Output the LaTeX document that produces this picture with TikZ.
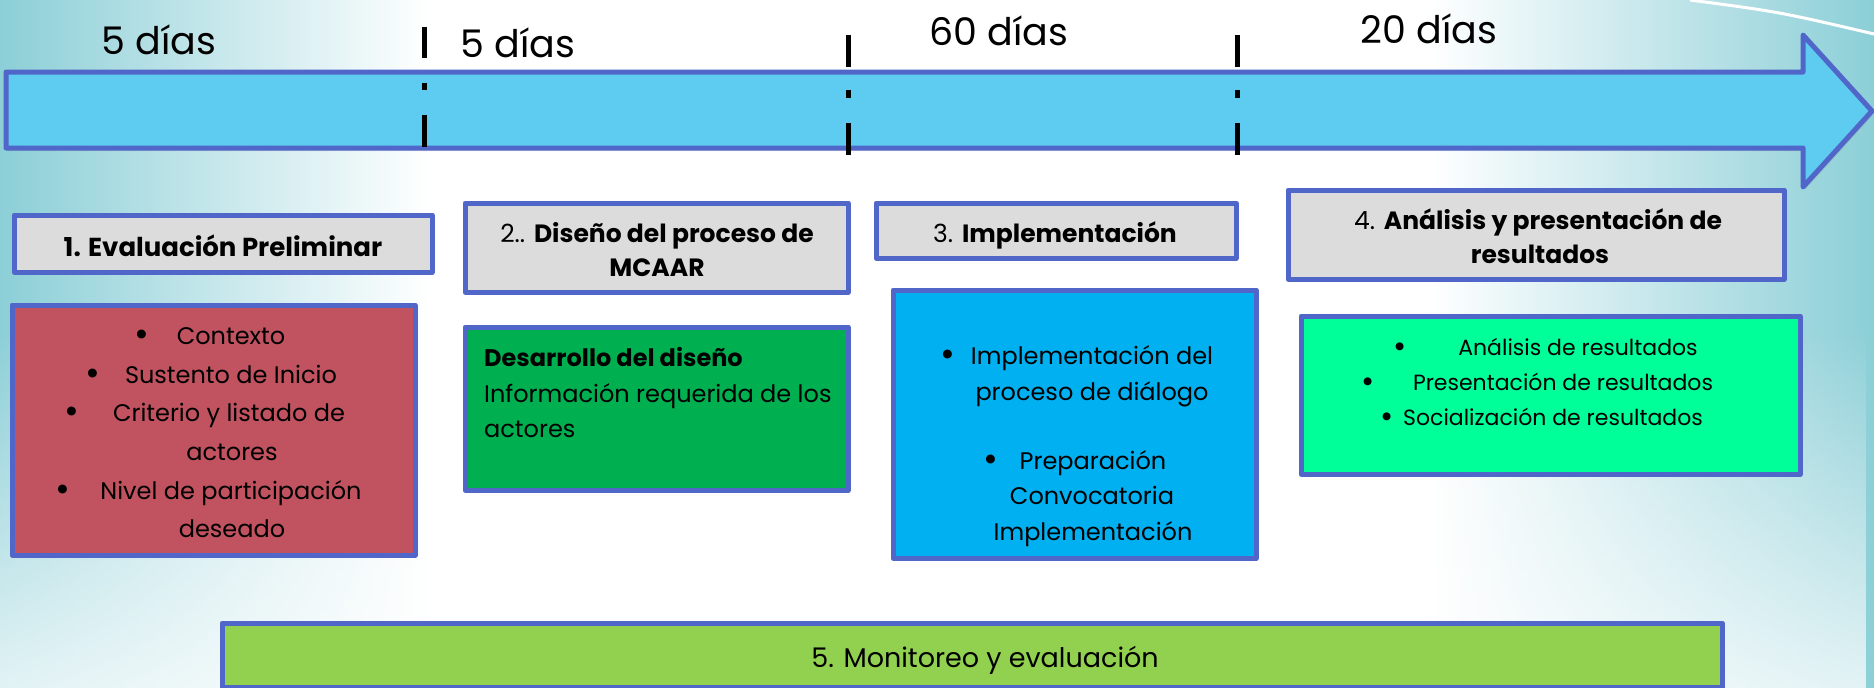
\documentclass[tikz,border=0pt]{standalone}
\usepackage{fontspec}
\setmainfont{Poppins}
\usetikzlibrary{shadows,fadings}
\definecolor{bord}{HTML}{5066C8}
\definecolor{arrowfill}{HTML}{5ECBF0}
\definecolor{hdrgray}{HTML}{DCDCDC}
\definecolor{redbox}{HTML}{C0535F}
\definecolor{greenbox}{HTML}{00B050}
\definecolor{bluebox}{HTML}{00B0F0}
\definecolor{lgbox}{HTML}{00FF99}
\definecolor{limebox}{HTML}{92D050}
\definecolor{bgteal}{HTML}{8CCFD7}
\begin{document}
\begin{tikzpicture}[x=1pt,y=-1pt,
  panel/.style={draw=bord, line width=5pt, inner sep=0pt, outer sep=0pt, line join=round,
    drop shadow={shadow xshift=2pt, shadow yshift=-3pt, opacity=0.18}},
  hdr/.style={panel, fill=hdrgray},
  txt/.style={anchor=mid, inner sep=0pt, font=\fontsize{24}{28}\selectfont},
  btxt/.style={anchor=mid, inner sep=0pt, font=\fontsize{25}{28}\selectfont\bfseries},
  htxt/.style={anchor=mid, inner sep=0pt, font=\fontsize{25}{28}\selectfont},
  smtxt/.style={anchor=mid, inner sep=0pt, font=\fontsize{22}{26}\selectfont},
  bul/.style={anchor=mid, inner sep=0pt, font=\fontsize{36}{36}\selectfont},
  bigtxt/.style={anchor=mid, inner sep=0pt, font=\fontsize{38}{42}\selectfont},
  tickmark/.style={line width=5pt, black},
]
\useasboundingbox (0,0) rectangle (1874,688);
% background
\fill[white] (0,0) rectangle (1874,688);
\shade[left color=bgteal, right color=white] (0,0) rectangle (430,688);
\shade[left color=white, right color=bgteal] (1430,0) rectangle (1874,688);
\fill[white, opacity=0.75, path fading=north] (0,330) rectangle (1874,688);
\draw[white, line width=3pt] (1690,0) .. controls (1780,12) .. (1874,34);

% timeline arrow
\draw[bord, fill=arrowfill, line width=5pt, line join=round,
  drop shadow={shadow xshift=2pt, shadow yshift=-3pt, opacity=0.18}]
  (6,72) -- (1803,72) -- (1803,35) -- (1872,111) -- (1803,187) -- (1803,148) -- (6,148) -- cycle;

% tick marks
\draw[tickmark] (424,27) -- (424,58) (424,83) -- (424,90) (424,115) -- (424,147);
\draw[tickmark] (848,35) -- (848,67) (848,90) -- (848,98) (848,123) -- (848,155);
\draw[tickmark] (1237,35) -- (1237,67) (1237,90) -- (1237,98) (1237,123) -- (1237,155);

% durations
\node[bigtxt] (d1) at (159,52) {5 días};
\node[bigtxt] (d2) at (518,55) {5 días};
\node[bigtxt] (d3) at (999,43) {60 días};
\node[bigtxt] (d4) at (1429,41) {20 días};

% headers
\node[hdr, minimum width=418pt, minimum height=57pt] (h1) at (223,243.5) {};
\node[hdr, minimum width=383pt, minimum height=89pt] (h2) at (656.5,247.5) {};
\node[hdr, minimum width=360pt, minimum height=55pt] (h3) at (1056,230.5) {};
\node[hdr, minimum width=496pt, minimum height=89pt] (h4) at (1536,234.5) {};

\node[btxt, font=\fontsize{26}{28}\selectfont\bfseries] (h1t) at (223,254) {1. Evaluación Preliminar};
\node[htxt] (h2t) at (657,240) {2.. \textbf{Diseño del proceso de}};
\node[btxt] (h2u) at (657,274) {MCAAR};
\node[htxt] (h3t) at (1055,240) {3. \textbf{Implementación}};
\node[htxt] (h4t) at (1538,227) {4. \textbf{Análisis y presentación de}};
\node[btxt] (h4u) at (1540,261) {resultados};

% content boxes
\node[panel, fill=redbox, minimum width=403pt, minimum height=250pt] (b1) at (213.5,430) {};
\node[panel, fill=greenbox, minimum width=383pt, minimum height=163pt] (b2) at (656.5,408.5) {};
\node[panel, fill=bluebox, minimum width=363pt, minimum height=268pt] (b3) at (1074.5,424) {};
\node[panel, fill=lgbox, minimum width=499pt, minimum height=158pt] (b4) at (1550.5,395) {};

% box 1 text
\node[bul] (r1b) at (142,344) {•};
\node[txt] (r1) at (231,342) {Contexto};
\node[bul] (r2b) at (93,383) {•};
\node[txt] (r2) at (231,381) {Sustento de Inicio};
\node[bul] (r3b) at (72,421) {•};
\node[txt] (r3) at (229,419) {Criterio y listado de};
\node[txt] (r4) at (232,458) {actores};
\node[bul] (r5b) at (63,499) {•};
\node[txt] (r5) at (231,497) {Nivel de participación};
\node[txt] (r6) at (232,535) {deseado};

% box 2 text
\node[btxt, font=\fontsize{24}{28}\selectfont\bfseries, anchor=mid west] (g1) at (484,364) {Desarrollo del diseño};
\node[txt, anchor=mid west] (g2) at (484,400) {Información requerida de los};
\node[txt, anchor=mid west] (g3) at (484,435) {actores};

% box 3 text
\node[bul] (c1b) at (948,364) {•};
\node[txt] (c1) at (1092,362) {Implementación del};
\node[txt] (c2) at (1092,398) {proceso de diálogo};
\node[bul] (c3b) at (991,469) {•};
\node[txt] (c3) at (1093,467) {Preparación};
\node[txt] (c4) at (1092,502) {Convocatoria};
\node[txt] (c5) at (1093,538) {Implementación};

% box 4 text
\node[bul, font=\fontsize{32}{32}\selectfont] (a1b) at (1400,355) {•};
\node[smtxt] (a1) at (1578,353) {Análisis de resultados};
\node[bul, font=\fontsize{32}{32}\selectfont] (a2b) at (1368,390) {•};
\node[smtxt] (a2) at (1563,388) {Presentación de resultados};
\node[bul, font=\fontsize{32}{32}\selectfont] (a3b) at (1387,425) {•};
\node[smtxt] (a3) at (1553,423) {Socialización de resultados};

% monitoring bar
\node[panel, fill=limebox, minimum width=1500pt, minimum height=64pt] (m) at (972,655) {};
\node[font=\fontsize{27}{30}\selectfont, anchor=mid, inner sep=0pt] (mt) at (985,665) {5. Monitoreo y evaluación};
\end{tikzpicture}
\end{document}
